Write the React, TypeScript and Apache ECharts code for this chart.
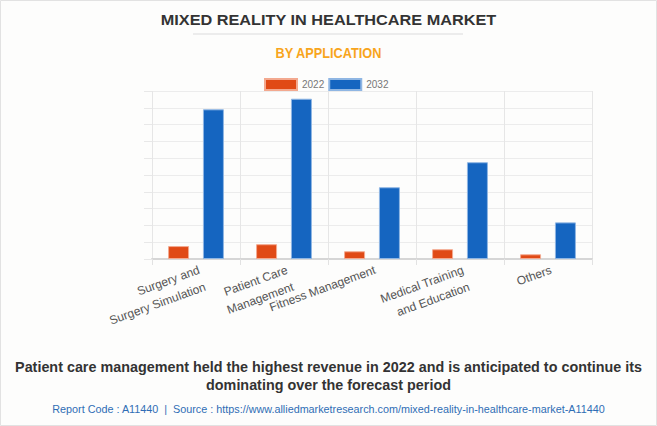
import React, { useEffect, useRef } from "react";
import * as echarts from "echarts";

const categories = [
  "Surgery and\nSurgery Simulation",
  "Patient Care\nManagement",
  "Fitness Management",
  "Medical Training\nand Education",
  "Others",
];
const values2022 = [0.77, 0.88, 0.46, 0.58, 0.28];
const values2032 = [8.91, 9.54, 4.27, 5.76, 2.18];
const seriesNames = ["2022", "2032"];

const titleText = "MIXED REALITY IN HEALTHCARE MARKET";
const subtitleText = "BY APPLICATION";
const noteLine1 =
  "Patient care management held the highest revenue in 2022 and is anticipated to continue its";
const noteLine2 = "dominating over the forecast period";
const sourceText =
  "Report Code : A11440  |  Source : https://www.alliedmarketresearch.com/mixed-reality-in-healthcare-market-A11440";

export default function App() {
  const ref = useRef<HTMLDivElement>(null);
  useEffect(() => {
    document.body.style.margin = "0";
    const chart = echarts.init(ref.current!, null, { renderer: "svg" });
    const font = "'Liberation Sans', Arial, sans-serif";
    chart.setOption({
      animation: false,
      backgroundColor: "#fdfdfc",
      textStyle: { fontFamily: font },
      legend: {
        data: seriesNames,
        top: 73,
        left: 259,
        icon: "rect",
        itemWidth: 32,
        itemHeight: 11,
        itemGap: 4,
        textStyle: { fontSize: 10, color: "#777", fontFamily: font },
      },
      grid: { left: 152, right: 65, top: 91, bottom: 167 },
      xAxis: {
        type: "category",
        data: categories,
        axisLine: { lineStyle: { color: "#d6d6d6", width: 2 } },
        axisTick: { show: true, length: 6, lineStyle: { color: "#e2e2e2" } },
        splitLine: { show: true, lineStyle: { color: "#e6e6e6" } },
        axisLabel: {
          rotate: 20,
          fontSize: 12,
          color: "#555",
          margin: 2,
          lineHeight: 18,
          interval: 0,
          align: "right",
          verticalAlign: "top",
          fontFamily: font,
        },
      },
      yAxis: {
        type: "value",
        min: 0,
        max: 10,
        interval: 1,
        axisLabel: { show: false },
        axisLine: { show: false },
        axisTick: { show: true, length: 8, lineStyle: { color: "#e8e8e8" } },
        splitLine: { show: true, lineStyle: { color: "#ececec" } },
      },
      series: [
        {
          name: seriesNames[0],
          type: "bar",
          data: values2022,
          barWidth: 21,
          barGap: "66%",
          itemStyle: { color: "#E04A16", borderColor: "#f3a98f", borderWidth: 1 },
        },
        {
          name: seriesNames[1],
          type: "bar",
          data: values2032,
          barWidth: 21,
          itemStyle: { color: "#1565C0", borderColor: "#8fb6e3", borderWidth: 1 },
        },
      ],
      graphic: [
        {
          type: "rect",
          shape: { x: 0.5, y: 0.5, width: 656, height: 425 },
          style: { fill: "none", stroke: "#e2e2e2", lineWidth: 1 },
          silent: true,
        },
        {
          type: "text",
          x: 328.5,
          y: 20,
          scaleX: 1.085,
          style: {
            text: titleText,
            font: "bold 15px 'Liberation Sans', Arial, sans-serif",
            fill: "#333",
            textAlign: "center",
            textVerticalAlign: "middle",
          },
        },
        {
          type: "line",
          shape: { x1: 193, y1: 34, x2: 463, y2: 34 },
          style: { stroke: "#ececec", lineWidth: 2 },
        },
        {
          type: "text",
          x: 328.5,
          y: 53,
          scaleX: 0.91,
          style: {
            text: subtitleText,
            font: "bold 14px 'Liberation Sans', Arial, sans-serif",
            fill: "#F8A51D",
            textAlign: "center",
            textVerticalAlign: "middle",
          },
        },
        {
          type: "text",
          x: 328.5,
          y: 367,
          scaleX: 1.026,
          style: {
            text: noteLine1,
            font: "bold 14px 'Liberation Sans', Arial, sans-serif",
            fill: "#333",
            textAlign: "center",
            textVerticalAlign: "middle",
          },
        },
        {
          type: "text",
          x: 328.5,
          y: 385,
          scaleX: 1.026,
          style: {
            text: noteLine2,
            font: "bold 14px 'Liberation Sans', Arial, sans-serif",
            fill: "#333",
            textAlign: "center",
            textVerticalAlign: "middle",
          },
        },
        {
          type: "text",
          x: 328.5,
          y: 409,
          scaleX: 0.982,
          style: {
            text: sourceText,
            font: "11px 'Liberation Sans', Arial, sans-serif",
            fill: "#2F6DB5",
            textAlign: "center",
            textVerticalAlign: "middle",
          },
        },
      ],
    });
    return () => chart.dispose();
  }, []);
  return <div ref={ref} style={{ width: 657, height: 426 }} />;
}
